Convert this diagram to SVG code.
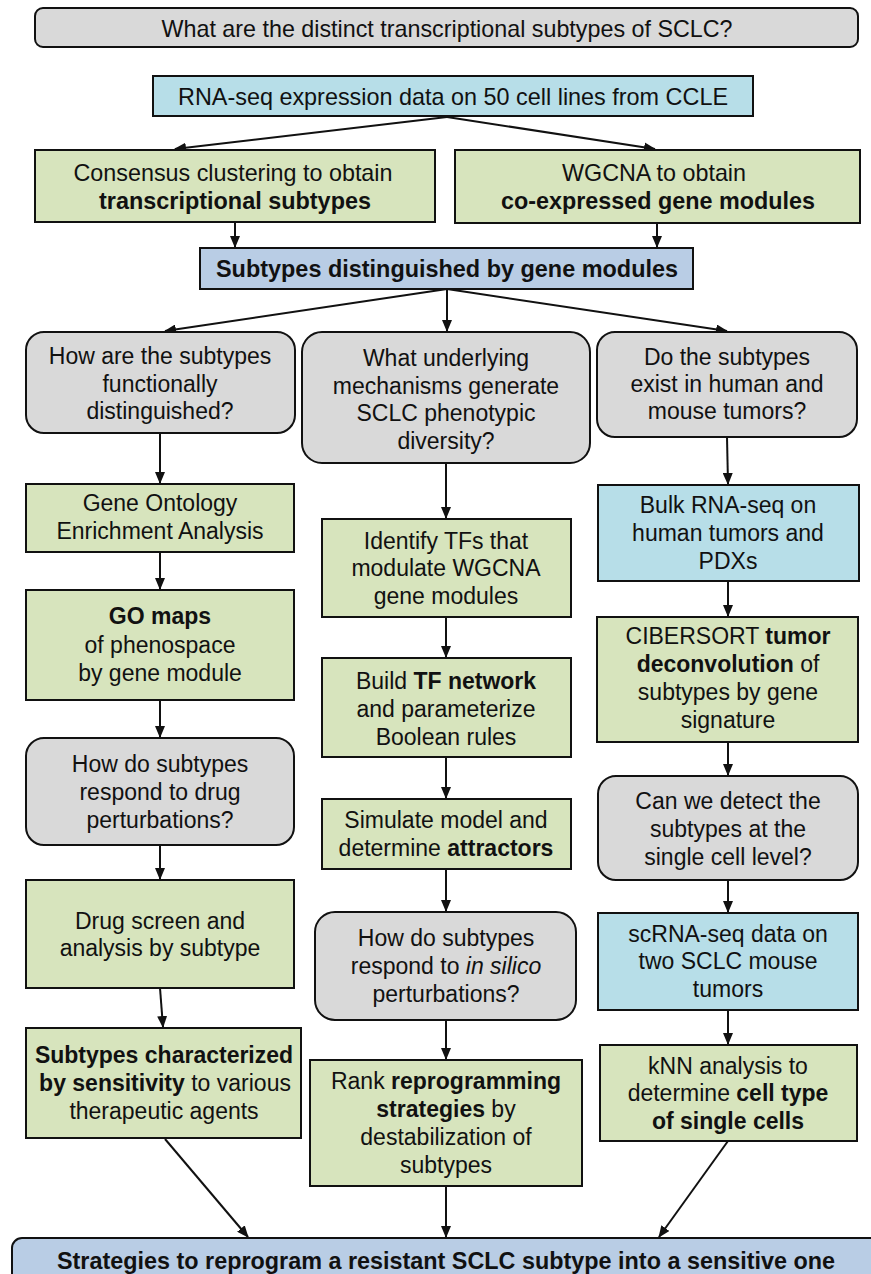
<svg xmlns="http://www.w3.org/2000/svg" width="871" height="1274" viewBox="0 0 871 1274">
<style>
.b{stroke:#111;stroke-width:2}
.q{fill:#d9d9d9}
.g{fill:#d7e4bd}
.c{fill:#b7dee8}
.s{fill:#b9cde5}
text{font-family:"Liberation Sans",Arial,sans-serif;font-size:23px;fill:#111;text-anchor:middle}
.n{font-size:24px}
.bd{font-weight:bold}
.e{stroke:#111;stroke-width:2;fill:none;marker-end:url(#ah)}
</style>
<defs>
<marker id="ah" markerUnits="userSpaceOnUse" markerWidth="12" markerHeight="10" refX="11" refY="5" orient="auto">
<path d="M0,0 L12,5 L0,10 Z" fill="#111"/>
</marker>
</defs>
<rect width="871" height="1274" fill="#fff"/>

<g id="connectors">
<path class="e" d="M447,117 L175,149"/>
<path class="e" d="M447,117 L655,149"/>
<path class="e" d="M235,222 L235,247"/>
<path class="e" d="M657,223 L657,247"/>
<path class="e" d="M447,289 L165,331"/>
<path class="e" d="M447,289 L447,331"/>
<path class="e" d="M447,289 L727,331"/>
<path class="e" d="M160,433 L160,483"/>
<path class="e" d="M160,552 L160,589"/>
<path class="e" d="M160,700 L160,737"/>
<path class="e" d="M160,845 L160,879"/>
<path class="e" d="M160,988 L163,1027"/>
<path class="e" d="M165,1139 L248,1237"/>
<path class="e" d="M446,463 L446,518"/>
<path class="e" d="M446,617 L446,657"/>
<path class="e" d="M446,757 L446,798"/>
<path class="e" d="M446,869 L446,911"/>
<path class="e" d="M446,1020 L446,1059"/>
<path class="e" d="M446,1186 L446,1237"/>
<path class="e" d="M727,437 L728,484"/>
<path class="e" d="M728,581 L728,616"/>
<path class="e" d="M728,742 L728,775"/>
<path class="e" d="M728,880 L728,912"/>
<path class="e" d="M728,1010 L728,1044"/>
<path class="e" d="M728,1141 L659,1237"/>
</g>

<g id="n_top">
<rect class="b q" x="35" y="8" width="823" height="39" rx="8"/>
<text class="n" x="447" y="37" textLength="571" lengthAdjust="spacingAndGlyphs">What are the distinct transcriptional subtypes of SCLC?</text>
</g>

<g id="n_rnaseq">
<rect class="b c" x="153" y="76" width="600" height="40"/>
<text class="n" x="453" y="105" textLength="550" lengthAdjust="spacingAndGlyphs">RNA-seq expression data on 50 cell lines from CCLE</text>
</g>

<g id="n_consensus">
<rect class="b g" x="35" y="150" width="400" height="72"/>
<text class="n" x="233" y="181" textLength="319" lengthAdjust="spacingAndGlyphs">Consensus clustering to obtain</text>
<text class="n bd" x="235" y="209" textLength="272" lengthAdjust="spacingAndGlyphs">transcriptional subtypes</text>
</g>

<g id="n_wgcna">
<rect class="b g" x="455" y="150" width="405" height="73"/>
<text class="n" x="654" y="181" textLength="184" lengthAdjust="spacingAndGlyphs">WGCNA to obtain</text>
<text class="n bd" x="658" y="209" textLength="314" lengthAdjust="spacingAndGlyphs">co-expressed gene modules</text>
</g>

<g id="n_subtypes">
<rect class="b s" x="200" y="248" width="493" height="41"/>
<text class="n bd" x="447" y="277" textLength="462" lengthAdjust="spacingAndGlyphs">Subtypes distinguished by gene modules</text>
</g>

<g id="n_q_func">
<rect class="b q" x="26" y="332" width="269" height="101" rx="18"/>
<text x="160" y="364">How are the subtypes</text>
<text x="160" y="392">functionally</text>
<text x="160" y="419">distinguished?</text>
</g>

<g id="n_go">
<rect class="b g" x="26" y="484" width="268" height="68"/>
<text x="160" y="511">Gene Ontology</text>
<text x="160" y="539">Enrichment Analysis</text>
</g>

<g id="n_gomaps">
<rect class="b g" x="26" y="590" width="268" height="110"/>
<text class="bd" x="160" y="624">GO maps</text>
<text x="160" y="653">of phenospace</text>
<text x="160" y="681">by gene module</text>
</g>

<g id="n_q_drug">
<rect class="b q" x="26" y="738" width="268" height="107" rx="18"/>
<text x="160" y="772">How do subtypes</text>
<text x="160" y="800">respond to drug</text>
<text x="160" y="828">perturbations?</text>
</g>

<g id="n_drug">
<rect class="b g" x="26" y="880" width="268" height="108"/>
<text x="160" y="929">Drug screen and</text>
<text x="160" y="956">analysis by subtype</text>
</g>

<g id="n_sens">
<rect class="b g" x="26" y="1028" width="275" height="110"/>
<text class="bd" x="164" y="1063">Subtypes characterized</text>
<text x="165" y="1091"><tspan class="bd">by sensitivity</tspan> to various</text>
<text x="164" y="1119">therapeutic agents</text>
</g>

<g id="n_q_mech">
<rect class="b q" x="302" y="332" width="288" height="131" rx="20"/>
<text x="446" y="366">What underlying</text>
<text x="446" y="394">mechanisms generate</text>
<text x="446" y="421">SCLC phenotypic</text>
<text x="446" y="449">diversity?</text>
</g>

<g id="n_tfs">
<rect class="b g" x="322" y="519" width="249" height="98"/>
<text x="446" y="549">Identify TFs that</text>
<text x="446" y="576">modulate WGCNA</text>
<text x="446" y="604">gene modules</text>
</g>

<g id="n_tfnet">
<rect class="b g" x="322" y="658" width="249" height="99"/>
<text x="446" y="689">Build <tspan class="bd">TF network</tspan></text>
<text x="446" y="717">and parameterize</text>
<text x="446" y="745">Boolean rules</text>
</g>

<g id="n_sim">
<rect class="b g" x="322" y="799" width="249" height="70"/>
<text x="446" y="828">Simulate model and</text>
<text x="446" y="856">determine <tspan class="bd">attractors</tspan></text>
</g>

<g id="n_q_silico">
<rect class="b q" x="315" y="912" width="261" height="108" rx="20"/>
<text x="446" y="946">How do subtypes</text>
<text x="446" y="974">respond to <tspan font-style="italic">in silico</tspan></text>
<text x="446" y="1002">perturbations?</text>
</g>

<g id="n_rank">
<rect class="b g" x="310" y="1060" width="272" height="126"/>
<text x="446" y="1089">Rank <tspan class="bd">reprogramming</tspan></text>
<text x="446" y="1117"><tspan class="bd">strategies</tspan> by</text>
<text x="446" y="1145">destabilization of</text>
<text x="446" y="1173">subtypes</text>
</g>

<g id="n_q_human">
<rect class="b q" x="597" y="332" width="260" height="105" rx="18"/>
<text x="727" y="365">Do the subtypes</text>
<text x="727" y="392">exist in human and</text>
<text x="727" y="419">mouse tumors?</text>
</g>

<g id="n_bulk">
<rect class="b c" x="598" y="485" width="261" height="96"/>
<text x="728" y="513">Bulk RNA-seq on</text>
<text x="728" y="541">human tumors and</text>
<text x="728" y="569">PDXs</text>
</g>

<g id="n_cibersort">
<rect class="b g" x="597" y="617" width="261" height="125"/>
<text x="728" y="644">CIBERSORT <tspan class="bd">tumor</tspan></text>
<text x="728" y="672"><tspan class="bd">deconvolution</tspan> of</text>
<text x="728" y="700">subtypes by gene</text>
<text x="728" y="728">signature</text>
</g>

<g id="n_q_single">
<rect class="b q" x="598" y="776" width="260" height="104" rx="18"/>
<text x="728" y="809">Can we detect the</text>
<text x="728" y="837">subtypes at the</text>
<text x="728" y="865">single cell level?</text>
</g>

<g id="n_scrna">
<rect class="b c" x="598" y="913" width="260" height="97"/>
<text x="728" y="942">scRNA-seq data on</text>
<text x="728" y="969">two SCLC mouse</text>
<text x="728" y="997">tumors</text>
</g>

<g id="n_knn">
<rect class="b g" x="600" y="1045" width="257" height="96"/>
<text x="728" y="1074">kNN analysis to</text>
<text x="728" y="1101">determine <tspan class="bd">cell type</tspan></text>
<text class="bd" x="728" y="1129">of single cells</text>
</g>

<g id="n_strategies">
<rect class="b s" x="12" y="1238" width="880" height="60" rx="10"/>
<text class="n bd" x="446" y="1269" textLength="778" lengthAdjust="spacingAndGlyphs">Strategies to reprogram a resistant SCLC subtype into a sensitive one</text>
</g>
</svg>
